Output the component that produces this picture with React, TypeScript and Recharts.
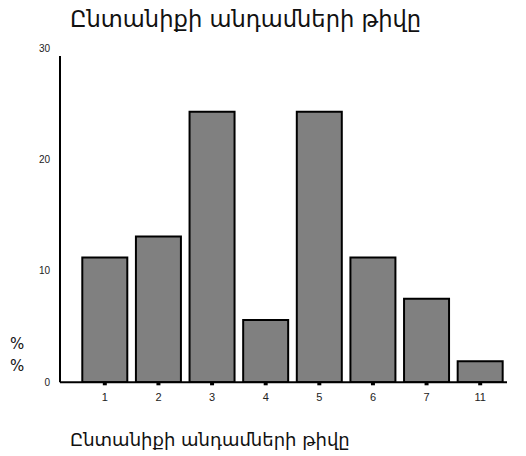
import React from "react";
import { BarChart, Bar, XAxis, YAxis } from "recharts";

const categories = ["1", "2", "3", "4", "5", "6", "7", "11"];
const percents = [11.2, 13.1, 24.3, 5.6, 24.3, 11.2, 7.5, 1.9];
const yTicks = [0, 10, 20, 30];
const title = "Ընտանիքի անդամների թիվը";
const xTitle = "Ընտանիքի անդամների թիվը";
const yTitle = ["%", "%"];

const data = categories.map((c, i) => ({ name: c, value: percents[i] }));

const font = "'DejaVu Sans', sans-serif";

export default function App() {
  return (
    <div style={{ position: "absolute", left: 0, top: 0, width: 526, height: 456, background: "#fff", fontFamily: font }}>
      <div style={{ position: "absolute", left: 70, top: 6, fontSize: 22.6, color: "#111", whiteSpace: "nowrap" }}>{title}</div>
      <div style={{ position: "absolute", left: 70, top: 429, fontSize: 18, color: "#111", whiteSpace: "nowrap" }}>{xTitle}</div>
      <div style={{ position: "absolute", left: 10, top: 333, fontSize: 15, color: "#111", lineHeight: "22px" }}>
        {yTitle.map((t, i) => (<div key={i}>{t}</div>))}
      </div>
      <BarChart
        width={526}
        height={456}
        data={data}
        margin={{ top: 56, right: 19, bottom: 0, left: 0 }}
        barCategoryGap={4.3}
        style={{ position: "absolute", left: 0, top: 0 }}
      >
        <XAxis
          dataKey="name"
          padding={{ left: 18, right: 0 }}
          axisLine={{ stroke: "#000", strokeWidth: 2 }}
          tickLine={{ stroke: "#000", strokeWidth: 4 }}
          tickSize={3}
          tickMargin={8}
          tick={{ fontSize: 11, fill: "#222", fontFamily: "'Liberation Sans', Arial, sans-serif" }}
          height={73.7}
        />
        <YAxis
          width={60}
          domain={[0, 29.3]}
          allowDataOverflow
          ticks={yTicks}
          interval={0}
          axisLine={{ stroke: "#000", strokeWidth: 2 }}
          tickLine={false}
          tickMargin={4}
          tick={{ fontSize: 10, fill: "#222", fontFamily: "'Liberation Sans', Arial, sans-serif" }}
        />
        <Bar dataKey="value" fill="#808080" stroke="#000" strokeWidth={2} isAnimationActive={false} />
      </BarChart>
    </div>
  );
}
